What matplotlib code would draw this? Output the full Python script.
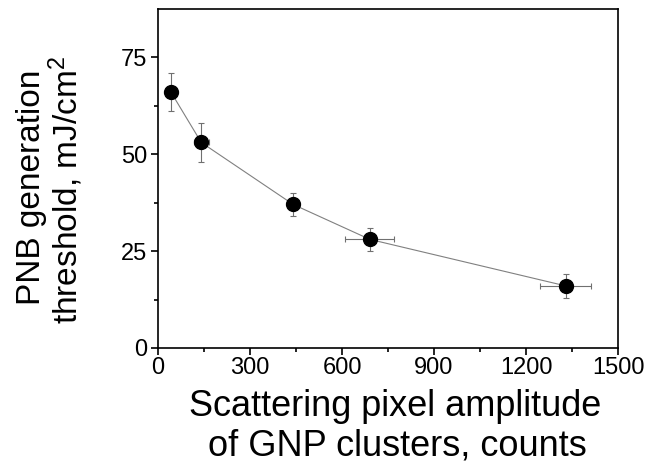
import matplotlib
matplotlib.use("Agg")
import matplotlib.pyplot as plt
from matplotlib.ticker import MultipleLocator

plt.rcParams["font.family"] = ["Liberation Sans", "DejaVu Sans"]
plt.rcParams["mathtext.fontset"] = "custom"
plt.rcParams["mathtext.rm"] = "Liberation Sans"
plt.rcParams["mathtext.it"] = "Liberation Sans:italic"

# values
amplitude = [42, 141, 441, 691, 1330]        # counts
amplitude_err = [0, 25, 0, 80, 83]
threshold = [66, 53, 37, 28, 16]             # mJ/cm^2
threshold_err = [5, 5, 3, 3, 3]

x_ticks = [0, 300, 600, 900, 1200, 1500]
y_ticks = [0, 25, 50, 75]

W, H = 653, 470
fig = plt.figure(figsize=(W / 100, H / 100), dpi=100)
ax = fig.add_axes([158 / W, 1 - 348 / H, 460 / W, 339 / H])

ax.errorbar(amplitude, threshold, xerr=amplitude_err, yerr=threshold_err,
            fmt="none", ecolor="#707070", elinewidth=0.8, capsize=2.3,
            capthick=0.8, zorder=2)
ax.plot(amplitude, threshold, "-", color="#808080", lw=0.8, zorder=1)
ax.plot(amplitude, threshold, "o", color="black", ms=10, zorder=3)

ax.set_xlim(0, 1500)
ax.set_ylim(0, 87.4)
ax.set_xticks(x_ticks)
ax.set_yticks(y_ticks)
ax.xaxis.set_minor_locator(MultipleLocator(150))
ax.yaxis.set_minor_locator(MultipleLocator(12.5))

for s in ax.spines.values():
    s.set_linewidth(1.2)
ax.tick_params(which="major", direction="out", length=5, width=1.2,
               labelsize=17)
ax.tick_params(which="minor", direction="out", length=3, width=1.2)
ax.tick_params(axis="x", pad=1.5)
ax.tick_params(axis="y", pad=3)

# axis labels, one text per line so each baseline sits where it does in the reference
fig.text(395 / W, 1 - 416 / H, "Scattering pixel amplitude", fontsize=26,
         ha="center", va="baseline")
fig.text(397 / W, 1 - 455 / H, "of GNP clusters, counts", fontsize=26,
         ha="center", va="baseline")
fig.text(40 / W, 1 - 187 / H, "PNB generation", fontsize=24, rotation=90,
         rotation_mode="anchor", ha="center", va="baseline")
fig.text(78 / W, 1 - 190 / H, "threshold, mJ/cm$^{2}$", fontsize=24,
         rotation=90, rotation_mode="anchor", ha="center", va="baseline")

fig.savefig("out.png", dpi=100)
